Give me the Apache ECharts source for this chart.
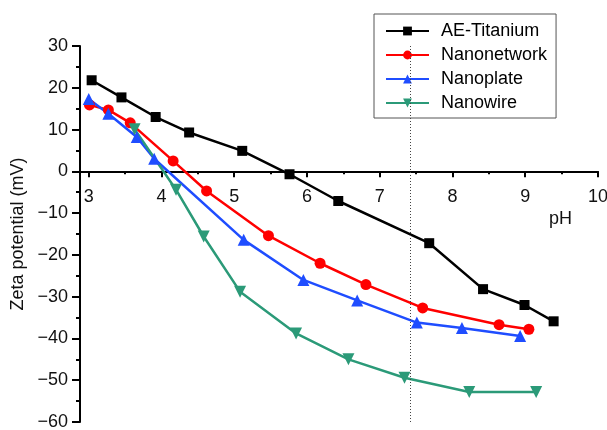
<!DOCTYPE html>
<html>
<head>
<meta charset="utf-8">
<script src="https://cdn.jsdelivr.net/npm/echarts@6/dist/echarts.min.js"></script>
<style>
    html, body {margin: 0; padding: 0; background: #fff;}
    #chart {width: 607px; height: 430px;}
</style>
</head>
<body>
<div id="chart"></div>
<script>
// zeta potential vs pH
var seriesNames = ['AE-Titanium', 'Nanonetwork', 'Nanoplate', 'Nanowire'];

var titaniumPH = [3.04, 3.45, 3.92, 4.38, 5.11, 5.76, 6.43, 7.68, 8.42, 8.99, 9.39];
var titaniumZeta = [21.8, 17.7, 13.0, 9.3, 4.9, -0.7, -7.1, -17.2, -28.2, -32.0, -35.9];

var networkPH = [3.01, 3.27, 3.57, 4.16, 4.62, 5.47, 6.18, 6.81, 7.59, 8.64, 9.05];
var networkZeta = [15.9, 14.7, 11.6, 2.5, -4.7, -15.4, -22.0, -27.1, -32.7, -36.7, -37.8];

var platePH = [3.0, 3.27, 3.66, 3.9, 5.13, 5.95, 6.69, 7.51, 8.13, 8.93];
var plateZeta = [17.3, 13.8, 8.2, 3.0, -16.4, -26.0, -30.9, -36.2, -37.5, -39.4];

var wirePH = [3.63, 4.2, 4.58, 5.08, 5.85, 6.57, 7.34, 8.23, 9.15];
var wireZeta = [10.1, -4.4, -15.6, -28.8, -38.8, -45.0, -49.4, -52.8, -52.8];

var majorTicksX = [3, 4, 5, 6, 7, 8, 9, 10];
var minorTicksX = [3.5, 4.5, 5.5, 6.5, 7.5, 8.5, 9.5];
var markerPH = 7.42; // dotted reference line

var xMin = 2.88, xMax = 10;
var yMin = -60, yMax = 30;

var font = "'Liberation Sans', Arial, sans-serif";

function pairs(xs, ys) {
    var out = [];
    for (var i = 0; i < xs.length; i++) {
        out.push([xs[i], ys[i]]);
    }
    return out;
}

function minusSign(v) {//long minus like the figure
    return String(v).replace('-', '\u2212');
}

var chart = echarts.init(document.getElementById('chart'), null, {renderer: 'canvas'});

// main plot area; the x axis sits on y = 0, so it gets its own grid ending there
var plotTop = 46, plotBottom = 8;
var plotHeight = 430 - plotTop - plotBottom;
var zeroBottom = 430 - (plotTop + plotHeight * yMax / (yMax - yMin));

var hiddenY = {type: 'value', min: 0, max: 1, show: false};
var hiddenX = {type: 'value', min: xMin, max: xMax, show: false};

var option = {
    animation: false,
    color: ['#000000', '#ff0000', '#1f4dff', '#2b9a78'],
    grid: [
        {left: 80, right: 9, top: plotTop, bottom: plotBottom, outerBoundsMode: 'none'},
        {left: 80, right: 9, top: plotTop, bottom: zeroBottom, outerBoundsMode: 'none'},
        {left: 80, right: 9, top: plotTop, bottom: zeroBottom, outerBoundsMode: 'none'}
    ],
    legend: {
        data: seriesNames,
        orient: 'vertical',
        left: 374,
        top: 14,
        padding: [7, 9, 5, 11],
        itemGap: 4,
        itemWidth: 43,
        itemHeight: 11,
        backgroundColor: '#fff',
        borderColor: '#555',
        borderWidth: 1,
        borderRadius: 0,
        textStyle: {fontFamily: font, fontSize: 18, color: '#000', lineHeight: 20, padding: [0, 0, 0, 7]}
    },
    xAxis: [
        Object.assign({gridIndex: 0}, hiddenX),
        {
            gridIndex: 1,
            type: 'value',
            min: xMin,
            max: xMax,
            position: 'bottom',
            name: 'pH',
            nameLocation: 'end',
            nameGap: 0,
            nameTextStyle: {fontFamily: font, fontSize: 18, color: '#111', align: 'right', verticalAlign: 'top', padding: [39, 26, 0, 0]},
            axisLine: {onZero: false, lineStyle: {color: '#000', width: 2}},
            axisTick: {show: true, customValues: majorTicksX, length: 6, lineStyle: {color: '#000', width: 2}},
            axisLabel: {customValues: majorTicksX, margin: 17, fontFamily: font, fontSize: 18, color: '#111'},
            splitLine: {show: false}
        },
        {
            gridIndex: 2,
            type: 'value',
            min: xMin,
            max: xMax,
            position: 'bottom',
            axisLine: {show: false, onZero: false},
            axisTick: {show: true, customValues: minorTicksX, length: 3, lineStyle: {color: '#000', width: 2}},
            axisLabel: {show: false},
            splitLine: {show: false}
        }
    ],
    yAxis: [
        {
            gridIndex: 0,
            type: 'value',
            min: yMin,
            max: yMax,
            interval: 10,
            name: 'Zeta potential (mV)',
            nameLocation: 'middle',
            nameGap: 50,
            nameTextStyle: {fontFamily: font, fontSize: 18, color: '#111'},
            axisLine: {show: true, onZero: false, lineStyle: {color: '#000', width: 2}},
            axisTick: {show: true, length: 8, lineStyle: {color: '#000', width: 2}},
            minorTick: {show: true, splitNumber: 2, length: 4, lineStyle: {color: '#000', width: 2}},
            axisLabel: {margin: 12, fontFamily: font, fontSize: 18, color: '#111', formatter: minusSign},
            splitLine: {show: false}
        },
        Object.assign({gridIndex: 1}, hiddenY),
        Object.assign({gridIndex: 2}, hiddenY)
    ],
    series: [
        {
            name: seriesNames[0],
            type: 'line',
            data: pairs(titaniumPH, titaniumZeta),
            symbol: 'rect',
            symbolSize: 10,
            lineStyle: {width: 2.5},
            markLine: {
                silent: true,
                symbol: 'none',
                label: {show: false},
                lineStyle: {color: '#444', width: 1, type: [1, 2]},
                data: [{xAxis: markerPH}]
            }
        },
        {
            name: seriesNames[1],
            type: 'line',
            data: pairs(networkPH, networkZeta),
            symbol: 'circle',
            symbolSize: 11,
            lineStyle: {width: 2.5}
        },
        {
            name: seriesNames[2],
            type: 'line',
            data: pairs(platePH, plateZeta),
            symbol: 'triangle',
            symbolSize: 12,
            lineStyle: {width: 2.5}
        },
        {
            name: seriesNames[3],
            type: 'line',
            data: pairs(wirePH, wireZeta),
            symbol: 'triangle',
            symbolRotate: 180,
            symbolSize: 12,
            lineStyle: {width: 2.5}
        }
    ]
};

chart.setOption(option);
</script>
</body>
</html>
